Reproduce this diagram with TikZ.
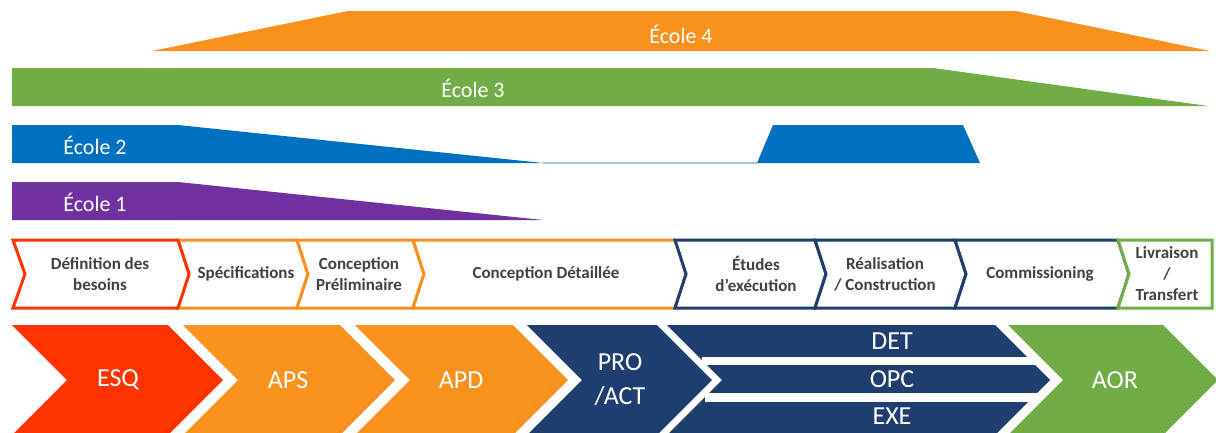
\documentclass[tikz,border=0pt]{standalone}
\usepackage{fontspec}
\setmainfont{Carlito}

\definecolor{rouge}{RGB}{255,51,0}
\definecolor{orange}{RGB}{248,145,30}
\definecolor{marine}{RGB}{31,62,112}
\definecolor{vert}{RGB}{112,173,71}
\definecolor{bleu}{RGB}{0,112,192}
\definecolor{bleuclair}{RGB}{157,195,230}
\definecolor{violet}{RGB}{112,48,160}
\definecolor{gristexte}{RGB}{64,64,64}

\begin{document}
\begin{tikzpicture}[x=1pt,y=-1pt,
    ecole/.style={text=white,font=\fontsize{22}{26}\selectfont},
    etape/.style={fill=white,draw=#1,line width=3pt,line join=miter},
    etiquette/.style={text=gristexte,font=\fontsize{17}{21}\selectfont\bfseries,align=center},
    phase/.style={text=white,font=\fontsize{26}{34}\selectfont,align=center}]

    \useasboundingbox (0,0) rectangle (1216,432);

    % Les quatre écoles (bandes du haut)
    \fill[orange] (152,51) -- (348,11) -- (1016,11) -- (1210,51) -- cycle;  % École 4
    \node[ecole] (ecole4) at (681,34) {École 4};

    \fill[vert] (12,68) -- (933,68) -- (1208,106) -- (12,106) -- cycle;  % École 3
    \node[ecole] (ecole3) at (473,88) {École 3};

    \fill[bleu] (12,125) -- (178,125) -- (543,163) -- (12,163) -- cycle;  % École 2
    \draw[bleuclair, line width=1.5pt] (543,163) -- (757,163);
    \fill[bleu] (757,163) -- (773,125) -- (963,125) -- (980,163) -- cycle;
    \node[ecole] (ecole2) at (95,145) {École 2};

    \fill[violet] (12,182) -- (178,182) -- (543,220) -- (12,220) -- cycle;  % École 1
    \node[ecole] (ecole1) at (95,202) {École 1};

    % Les étapes (chevrons vides)
    \draw[etape=orange] (178,240) -- (297,240) -- (308,274) -- (297,308) -- (178,308) -- (189,274) -- cycle;
    \draw[etape=orange] (297,240) -- (413,240) -- (424,274) -- (413,308) -- (297,308) -- (308,274) -- cycle;
    \draw[etape=orange] (413,240) -- (675,240) -- (686,274) -- (675,308) -- (413,308) -- (424,274) -- cycle;
    \draw[etape=rouge] (13,240) -- (178,240) -- (189,274) -- (178,308) -- (13,308) -- (25,274) -- cycle;
    \draw[etape=marine] (675,240) -- (815,240) -- (826,274) -- (815,308) -- (675,308) -- (686,274) -- cycle;
    \draw[etape=marine] (815,240) -- (955,240) -- (966,274) -- (955,308) -- (815,308) -- (826,274) -- cycle;
    \draw[etape=marine] (955,240) -- (1118,240) -- (1129,274) -- (1118,308) -- (955,308) -- (966,274) -- cycle;
    \draw[etape=vert] (1118,240) -- (1212,240) -- (1212,308) -- (1118,308) -- (1129,274) -- cycle;

    \node[etiquette] (besoins) at (100,274) {Définition des\\besoins};
    \node[etiquette] (specif) at (246,274) {Spécifications};
    \node[etiquette] (prelim) at (359,274) {Conception\\Préliminaire};
    \node[etiquette] (detail) at (546,274) {Conception Détaillée};
    \node[etiquette] (etudes) at (756,274) {Études\\d’exécution};
    \node[etiquette] (realis) at (885,274) {Réalisation\\/ Construction};
    \node[etiquette] (commis) at (1040,274) {Commissioning};
    \node[etiquette] (livr) at (1167,274) {Livraison\\/\\Transfert};

    % Les phases (grands chevrons pleins)
    \fill[rouge] (12,325) -- (168,325) -- (223,380) -- (168,435) -- (12,435) -- (67,380) -- cycle;
    \fill[orange] (183,325) -- (340,325) -- (395,380) -- (340,435) -- (183,435) -- (238,380) -- cycle;
    \fill[orange] (355,325) -- (513,325) -- (568,380) -- (513,435) -- (355,435) -- (410,380) -- cycle;
    \fill[marine] (527,325) -- (657,325) -- (712,380) -- (657,435) -- (527,435) -- (582,380) -- cycle;
    \fill[marine] (667,325) -- (995,325) -- (1050,380) -- (995,435) -- (667,435) -- (722,380) -- cycle;
    \fill[white] (702,357) rectangle (1060,365);  % séparation DET / OPC
    \fill[white] (705,393) rectangle (1060,402);  % séparation OPC / EXE
    \fill[vert] (1008,325) -- (1163,325) -- (1218,380) -- (1163,435) -- (1008,435) -- (1063,380) -- cycle;

    \node[phase] (esq) at (118,380) {ESQ};
    \node[phase] (aps) at (288,380) {APS};
    \node[phase] (apd) at (461,380) {APD};
    \node[phase] (pro) at (620,380) {PRO\\/ACT};
    \node[phase] (det) at (892,341) {DET};
    \node[phase] (opc) at (892,379) {OPC};
    \node[phase] (exe) at (892,416) {EXE};
    \node[phase] (aor) at (1115,380) {AOR};
\end{tikzpicture}
\end{document}
